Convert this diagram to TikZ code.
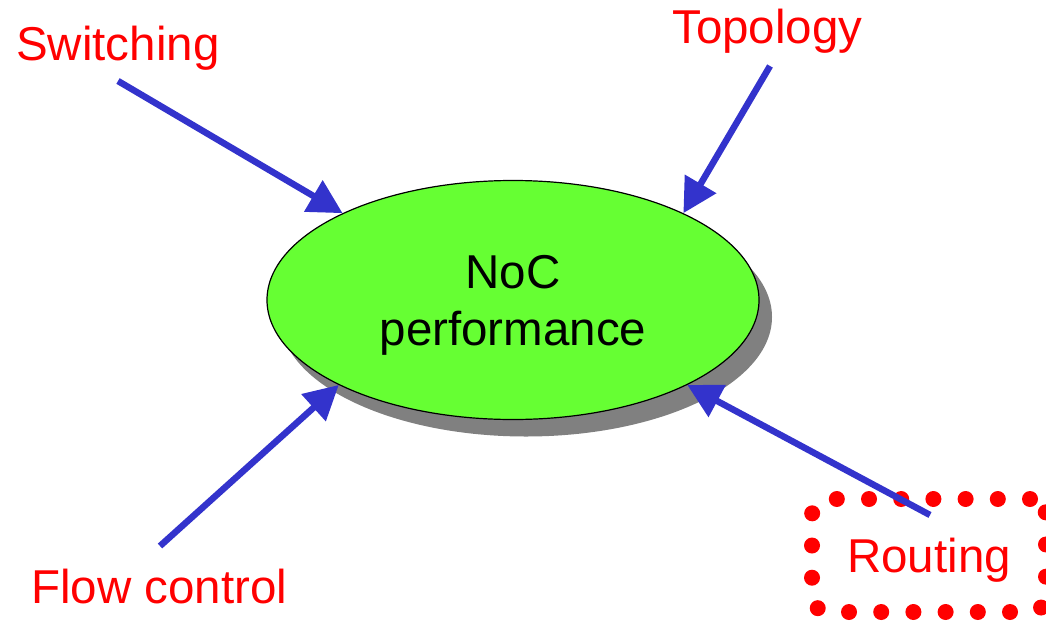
\documentclass[tikz,border=0pt]{standalone}
\usepackage{fontspec}
\setmainfont{Liberation Sans}
\usetikzlibrary{arrows.meta,shapes.geometric,shadows}
\definecolor{arrowblue}{HTML}{3333CC}
\definecolor{nocgreen}{HTML}{66FF33}
\definecolor{shadowgray}{HTML}{808080}
\definecolor{labelred}{HTML}{FF0000}
\begin{document}
\begin{tikzpicture}[x=1pt,y=-1pt,
  lbl/.style={text=labelred, font=\fontsize{47.5}{56}\selectfont, inner sep=0pt, anchor=base west},
  conn/.style={draw=arrowblue, fill=arrowblue, line width=6.5pt, -{Triangle[length=34pt,width=35pt]}},
  nocstyle/.style={ellipse, draw=black, line width=1.2pt, fill=nocgreen,
    minimum width=492pt, minimum height=239pt, inner sep=0pt, align=center,
    text depth=0pt, font=\fontsize{47.5}{57}\selectfont,
    drop shadow={shadow xshift=13pt, shadow yshift=-17pt, fill=shadowgray, opacity=1}},
  dotbox/.style={draw=labelred, text=labelred, line width=16pt,
    dash pattern=on 0pt off 32.2pt, line cap=round, rounded corners=16pt,
    minimum width=234pt, minimum height=113pt, inner sep=0pt, text depth=0pt,
    font=\fontsize{47.5}{56}\selectfont}
]
\useasboundingbox (0,0) rectangle (1046,621);
\node[nocstyle] (noc) at (513,300) {NoC\\performance};
\node[lbl] (sw) at (16,60) {Switching};
\node[lbl] (top) at (672,43) {Topology};
\node[lbl] (fc) at (31,603) {Flow control};
\node[dotbox] (rt) at (929,555.5) {Routing};
\coordinate (sws) at (118,81);
\coordinate (tps) at (770,66);
\coordinate (fcs) at (160,546);
\coordinate (rts) at (930,515);
\draw[conn] (sws) -- (noc.153);
\draw[conn] (tps) -- (noc.27);
\draw[conn] (fcs) -- (noc.206);
\draw[conn] (rts) -- (noc.334);
\end{tikzpicture}
\end{document}
